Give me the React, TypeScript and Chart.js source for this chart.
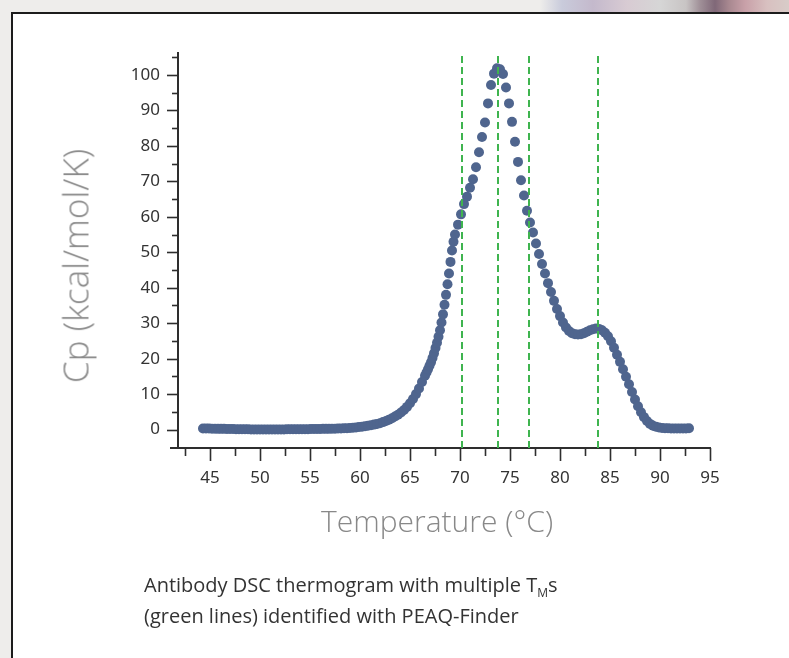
import React, { useEffect, useRef } from 'react';
import { Chart, registerables } from 'chart.js';

Chart.register(...registerables);

// ---- Data ----
const TEMPERATURES = [
  44.3, 44.6, 44.9, 45.2, 45.5, 45.8, 46.1, 46.4, 46.7, 47.0,
  47.3, 47.6, 47.9, 48.2, 48.5, 48.8, 49.1, 49.4, 49.7, 50.0,
  50.3, 50.6, 50.9, 51.2, 51.5, 51.8, 52.1, 52.4, 52.7, 53.0,
  53.3, 53.6, 53.9, 54.2, 54.5, 54.8, 55.1, 55.4, 55.7, 56.0,
  56.3, 56.6, 56.9, 57.2, 57.5, 57.8, 58.1, 58.4, 58.7, 59.0,
  59.3, 59.6, 59.9, 60.2, 60.5, 60.8, 61.1, 61.4, 61.7, 62.0,
  62.3, 62.6, 62.9, 63.2, 63.5, 63.8, 64.1, 64.4, 64.7, 65.0,
  65.3, 65.6, 65.9, 66.2, 66.5, 66.65, 66.8, 66.95, 67.1, 67.25,
  67.4, 67.55, 67.7, 67.85, 68.0, 68.15, 68.3, 68.45, 68.6, 68.75,
  68.9, 69.05, 69.2, 69.35, 69.5, 69.8, 70.1, 70.4, 70.7, 71.0,
  71.3, 71.6, 71.9, 72.2, 72.5, 72.8, 73.1, 73.4, 73.7, 74.0,
  74.3, 74.6, 74.9, 75.2, 75.5, 75.8, 76.1, 76.4, 76.7, 77.0,
  77.3, 77.6, 77.9, 78.2, 78.5, 78.8, 79.1, 79.4, 79.7, 80.0,
  80.3, 80.6, 80.9, 81.2, 81.5, 81.8, 82.1, 82.4, 82.7, 83.0,
  83.3, 83.6, 83.9, 84.2, 84.5, 84.8, 85.1, 85.4, 85.7, 86.0,
  86.3, 86.6, 86.9, 87.2, 87.5, 87.8, 88.1, 88.4, 88.7, 89.0,
  89.3, 89.6, 89.9, 90.2, 90.5, 90.8, 91.1, 91.4, 91.7, 92.0,
  92.3, 92.6, 92.9,
];

const CP_VALUES = [
  0.3, 0.3, 0.3, 0.25, 0.25, 0.2, 0.2, 0.2, 0.15, 0.15,
  0.15, 0.1, 0.1, 0.1, 0.1, 0.1, 0.05, 0.05, 0.05, 0.05,
  0.05, 0.05, 0.05, 0.05, 0.05, 0.05, 0.05, 0.05, 0.1, 0.1,
  0.1, 0.1, 0.1, 0.1, 0.1, 0.1, 0.15, 0.15, 0.15, 0.15,
  0.2, 0.2, 0.2, 0.25, 0.25, 0.3, 0.3, 0.35, 0.4, 0.45,
  0.5, 0.6, 0.7, 0.8, 0.95, 1.1, 1.25, 1.4, 1.6, 1.8,
  2.1, 2.4, 2.8, 3.2, 3.7, 4.2, 4.8, 5.5, 6.4, 7.4,
  8.6, 10.0, 11.6, 13.4, 15.2, 16.1, 17.0, 18.0, 19.0, 20.2,
  21.5, 23.0, 24.5, 26.2, 28.0, 30.2, 32.5, 35.2, 38.0, 41.0,
  44.0, 47.3, 50.5, 53.0, 55.0, 57.8, 60.7, 63.6, 65.7, 68.2,
  70.6, 74.0, 78.2, 82.5, 86.6, 92.0, 97.2, 100.4, 101.9, 101.6,
  100.3, 96.5, 92.0, 86.8, 81.2, 75.5, 70.3, 66.0, 61.7, 58.4,
  55.6, 52.5, 49.5, 46.7, 44.0, 41.3, 38.8, 36.3, 34.0, 32.0,
  30.2, 28.8, 27.8, 27.2, 26.9, 26.8, 26.9, 27.2, 27.6, 28.0,
  28.3, 28.5, 28.4, 28.0, 27.3, 26.3, 24.9, 23.1, 21.1, 19.1,
  17.0, 14.9, 12.8, 10.6, 8.5, 6.6, 4.9, 3.5, 2.4, 1.6,
  1.1, 0.8, 0.6, 0.45, 0.4, 0.35, 0.3, 0.3, 0.3, 0.3,
  0.3, 0.3, 0.35,
];

const TM_LINES = [70.2, 73.8, 76.9, 83.8];

const X_TICKS = [45, 50, 55, 60, 65, 70, 75, 80, 85, 90, 95];
const X_MINOR_TICKS = [42.5, 47.5, 52.5, 57.5, 62.5, 67.5, 72.5, 77.5, 82.5, 87.5, 92.5];
const Y_TICKS = [0, 10, 20, 30, 40, 50, 60, 70, 80, 90, 100];
const Y_MINOR_TICKS = [5, 15, 25, 35, 45, 55, 65, 75, 85, 95, 105];

const X_MIN = 41.8;
const X_MAX = 95.1;
const Y_MIN = -5.2;
const Y_MAX = 106.5;

const X_TITLE = 'Temperature (°C)';
const Y_TITLE = 'Cp (kcal/mol/K)';

// ---- Styles ----
const DOT_COLOR = '#4f658e';
const TM_COLOR = '#3fb44f';
const AXIS_COLOR = '#2e2e2e';
const TICK_FONT = '"Noto Sans", "DejaVu Sans", sans-serif';

const axisPlugin = {
  id: 'axisDeco',
  beforeDatasetsDraw(chart: any) {
    const { ctx, chartArea, scales } = chart;
    const x = scales.x;
    const y = scales.y;
    ctx.save();
    ctx.strokeStyle = AXIS_COLOR;
    ctx.lineWidth = 2;
    ctx.beginPath();
    ctx.moveTo(chartArea.left, chartArea.top);
    ctx.lineTo(chartArea.left, chartArea.bottom);
    ctx.stroke();
    ctx.beginPath();
    ctx.moveTo(chartArea.left - 8, chartArea.bottom);
    ctx.lineTo(chartArea.right, chartArea.bottom);
    ctx.stroke();

    ctx.lineWidth = 1.6;
    const tick = (x1: number, y1: number, x2: number, y2: number) => {
      ctx.beginPath();
      ctx.moveTo(x1, y1);
      ctx.lineTo(x2, y2);
      ctx.stroke();
    };
    for (const v of Y_TICKS) {
      const py = Math.round(y.getPixelForValue(v)) + 0.5;
      tick(chartArea.left - 11, py, chartArea.left, py);
    }
    for (const v of Y_MINOR_TICKS) {
      const py = Math.round(y.getPixelForValue(v)) + 0.5;
      tick(chartArea.left - 6, py, chartArea.left, py);
    }
    for (const v of X_TICKS) {
      const px = Math.round(x.getPixelForValue(v)) + 0.5;
      tick(px, chartArea.bottom, px, chartArea.bottom + 13);
    }
    for (const v of X_MINOR_TICKS) {
      const px = Math.round(x.getPixelForValue(v)) + 0.5;
      tick(px, chartArea.bottom, px, chartArea.bottom + 8);
    }
    ctx.restore();
  },
};

function DscChart() {
  const canvasRef = useRef<HTMLCanvasElement | null>(null);

  useEffect(() => {
    const canvas = canvasRef.current;
    if (!canvas) return;

    const tmDatasets = TM_LINES.map((tm) => ({
      type: 'line' as const,
      label: `Tm ${tm}`,
      data: [
        { x: tm, y: Y_MIN },
        { x: tm, y: Y_MAX },
      ],
      borderColor: TM_COLOR,
      borderWidth: 2,
      borderDash: [7, 4],
      pointRadius: 0,
      fill: false,
      order: 0,
    }));

    const points = TEMPERATURES.map((t, i) => ({ x: t, y: CP_VALUES[i] }));

    const chart = new Chart(canvas, {
      type: 'scatter',
      data: {
        datasets: [
          ...tmDatasets,
          {
            type: 'scatter' as const,
            label: 'Cp',
            data: points,
            backgroundColor: DOT_COLOR,
            borderWidth: 0,
            pointRadius: 5,
            order: 1,
          },
        ] as any,
      },
      options: {
        responsive: false,
        animation: false,
        devicePixelRatio: 1,
        events: [],
        layout: { padding: { left: 0, right: 78, top: 52, bottom: 110 } },
        plugins: {
          legend: { display: false },
          tooltip: { enabled: false },
          title: { display: false },
        },
        scales: {
          x: {
            type: 'linear',
            min: X_MIN,
            max: X_MAX,
            afterBuildTicks: (s: any) => {
              s.ticks = X_TICKS.map((v) => ({ value: v }));
            },
            afterFit: (s: any) => {
              s.height = 100;
            },
            grid: { display: false, drawTicks: false },
            border: { display: false },
            ticks: {
              autoSkip: false,
              maxRotation: 0,
              padding: 20,
              color: '#333333',
              font: { family: TICK_FONT, size: 17 },
            },
          },
          y: {
            type: 'linear',
            min: Y_MIN,
            max: Y_MAX,
            afterBuildTicks: (s: any) => {
              s.ticks = Y_TICKS.map((v) => ({ value: v }));
            },
            afterFit: (s: any) => {
              s.width = 178;
            },
            grid: { display: false, drawTicks: false },
            border: { display: false },
            ticks: {
              autoSkip: false,
              padding: 18,
              color: '#333333',
              font: { family: TICK_FONT, size: 17 },
            },
          },
        },
      } as any,
      plugins: [axisPlugin],
    });

    return () => {
      chart.destroy();
    };
  }, []);

  return (
    <canvas
      ref={canvasRef}
      width={789}
      height={658}
      style={{ position: 'absolute', left: 0, top: 0, width: 789, height: 658 }}
    />
  );
}

export default function App() {
  return (
    <div
      style={{
        position: 'absolute',
        left: 0,
        top: 0,
        width: 789,
        height: 658,
        overflow: 'hidden',
        background: '#eeedeb',
        fontFamily: '"Open Sans", "Noto Sans", sans-serif',
      }}
    >
      <div
        style={{
          position: 'absolute',
          left: 0,
          top: 0,
          width: 789,
          height: 12,
          background:
            'linear-gradient(to right, #eeedeb 0px, #eeedeb 540px, #c9cbdb 562px, #c4b9cc 593px, #d8cbd3 627px, #d6d6d6 660px, #c8c4c4 686px, #a09098 700px, #806878 715px, #a88890 729px, #c8a0a8 745px, #d8c0c0 767px, #d8ccc8 789px)',
        }}
      />
      <div
        style={{
          position: 'absolute',
          left: 11,
          top: 12,
          width: 778,
          height: 646,
          boxSizing: 'border-box',
          background: '#ffffff',
          borderLeft: '2px solid #1c1c1c',
          borderTop: '2px solid #1c1c1c',
        }}
      />
      <DscChart />
      <div
        style={{
          position: 'absolute',
          left: 437,
          top: 521,
          transform: 'translate(-50%, -50%)',
          whiteSpace: 'nowrap',
          fontSize: 30,
          fontWeight: 300,
          color: '#888888',
          lineHeight: 1,
        }}
      >
        {X_TITLE}
      </div>
      <div
        style={{
          position: 'absolute',
          left: 75,
          top: 266,
          transform: 'translate(-50%, -50%) rotate(-90deg)',
          whiteSpace: 'nowrap',
          fontSize: 35,
          fontWeight: 300,
          color: '#888888',
          lineHeight: 1,
        }}
      >
        {Y_TITLE}
      </div>
      <div
        style={{
          position: 'absolute',
          left: 144,
          top: 571,
          fontSize: 20,
          lineHeight: '28px',
          color: '#333333',
          whiteSpace: 'nowrap',
        }}
      >
        <div>
          Antibody DSC thermogram with multiple T
          <sub style={{ fontSize: 12, verticalAlign: 'baseline', position: 'relative', top: 5 }}>M</sub>s
        </div>
        <div>(green lines) identified with PEAQ-Finder</div>
      </div>
    </div>
  );
}
